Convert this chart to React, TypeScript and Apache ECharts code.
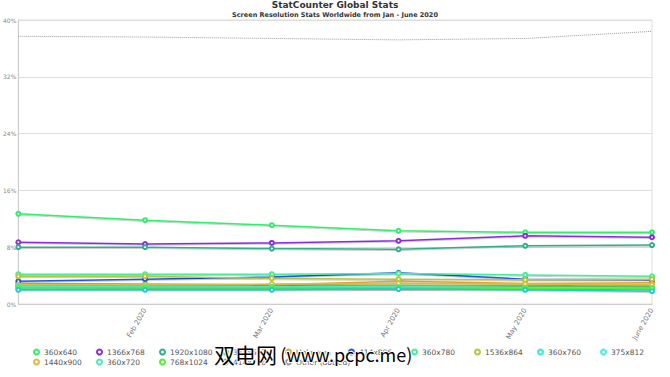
import React, { useEffect, useRef } from "react";
import * as echarts from "echarts";

const months = ["Jan 2020", "Feb 2020", "Mar 2020", "Apr 2020", "May 2020", "June 2020"];
const yTicks = { min: 0, max: 40, interval: 8 };

const s360x640 = [12.7, 11.8, 11.1, 10.3, 10.1, 10.1];
const s1366x768 = [8.7, 8.45, 8.6, 8.9, 9.6, 9.4];
const s1920x1080 = [8.0, 8.0, 7.8, 7.7, 8.2, 8.3];
const s375x667 = [2.9, 2.8, 2.7, 2.6, 2.5, 2.4];
const sUnknown = [2.6, 2.6, 2.7, 3.2, 2.9, 3.0];
const s414x896 = [3.2, 3.5, 3.8, 4.4, 3.5, 3.4];
const s360x780 = [4.2, 4.2, 4.2, 4.3, 4.1, 3.9];
const s1536x864 = [3.9, 3.9, 3.6, 3.5, 3.4, 3.5];
const s360x760 = [2.4, 2.4, 2.4, 2.6, 2.6, 2.6];
const s375x812 = [2.1, 2.1, 2.1, 2.2, 2.1, 2.0];
const s1440x900 = [2.7, 2.7, 2.8, 2.9, 2.8, 2.7];
const s360x720 = [2.5, 2.4, 2.4, 2.4, 2.3, 2.2];
const s768x1024 = [2.3, 2.3, 2.3, 2.3, 2.2, 2.2];
const s414x736 = [2.0, 2.0, 2.0, 2.1, 2.0, 1.8];
const sOther = [37.7, 37.6, 37.4, 37.2, 37.4, 38.4];

const seriesNames = [
  "360x640", "1366x768", "1920x1080", "375x667", "Unknown", "414x896", "360x780",
  "1536x864", "360x760", "375x812", "1440x900", "360x720", "768x1024", "414x736", "Other (dotted)",
];
const seriesData = [
  s360x640, s1366x768, s1920x1080, s375x667, sUnknown, s414x896, s360x780,
  s1536x864, s360x760, s375x812, s1440x900, s360x720, s768x1024, s414x736, sOther,
];
const colors = [
  "#2ef06a", "#8a2be2", "#2fb08a", "#66cc44", "#e8a030", "#2255ee", "#44ee99",
  "#b8c43a", "#33eecc", "#44eeee", "#ddbb44", "#44eebb", "#55ee33", "#22cccc", "#999999",
];

export default function App() {
  const ref = useRef<HTMLDivElement>(null);
  useEffect(() => {
    if (!ref.current) return;
    const chart = echarts.init(ref.current, null, { renderer: "svg" });
    const series = seriesNames.map((name, i) => {
      const isOther = name.startsWith("Other");
      return {
        name,
        type: "line",
        data: seriesData[i],
        color: colors[i],
        symbol: "emptyCircle",
        symbolSize: 4,
        showSymbol: !isOther,
        z: isOther ? 1 : 2 + i,
        lineStyle: {
          width: isOther ? 1 : 1.5,
          type: isOther ? "dotted" : "solid",
          color: colors[i],
          shadowColor: isOther ? "transparent" : "rgba(0,0,0,0.2)",
          shadowBlur: isOther ? 0 : 1,
          shadowOffsetY: isOther ? 0 : 1,
        },
        itemStyle: { color: colors[i], borderWidth: 0.8 },
        emphasis: { disabled: true },
      };
    });
    const legends = seriesNames.map((name, i) => {
      const row = i < 10 ? 0 : 1;
      const col = row === 0 ? i : i - 10;
      return {
        orient: "horizontal",
        left: 33 + 63 * col,
        top: row === 0 ? 348 : 358,
        padding: 0,
        itemWidth: 5,
        itemHeight: 5,
        icon: "emptyCircle",
        itemStyle: { borderWidth: 0.8 },
        textStyle: { fontSize: 7.5, color: "#555", fontFamily: "DejaVu Sans" },
        selectedMode: false,
        data: [name],
      };
    });
    chart.setOption({
      animation: false,
      title: [
        {
          text: "StatCounter Global Stats",
          left: "center",
          top: 0,
          padding: 0,
          textStyle: { fontSize: 9, fontWeight: "bold", color: "#333", fontFamily: "DejaVu Sans" },
        },
        {
          text: "Screen Resolution Stats Worldwide from Jan - June 2020",
          left: "center",
          top: 11,
          padding: 0,
          textStyle: { fontSize: 6.5, fontWeight: "bold", color: "#333", fontFamily: "DejaVu Sans" },
        },
      ],
      legend: legends,
      grid: {
        left: 14,
        right: 18,
        top: 20,
        bottom: 73,
        show: true,
        borderColor: "#dddddd",
        borderWidth: 1,
      },
      xAxis: {
        type: "category",
        data: months,
        boundaryGap: false,
        axisLine: { lineStyle: { color: "#cccccc" } },
        axisTick: { show: false },
        axisLabel: {
          rotate: 60,
          fontSize: 7,
          color: "#777",
          margin: 5,
          fontFamily: "DejaVu Sans",
          formatter: (v: string, idx: number) => (idx === 0 ? "" : v),
        },
        splitLine: { show: false },
      },
      yAxis: {
        type: "value",
        min: yTicks.min,
        max: yTicks.max,
        interval: yTicks.interval,
        axisLine: { show: true, lineStyle: { color: "#cccccc" } },
        axisTick: { show: false },
        axisLabel: {
          formatter: "{value}%",
          fontSize: 6,
          color: "#888",
          margin: 2,
          fontFamily: "DejaVu Sans",
        },
        splitLine: { lineStyle: { color: "#dddddd" } },
      },
      graphic: [
        {
          type: "text",
          left: 213,
          top: 342,
          z: 100,
          style: {
            text: "{a|双电网} {b|(www.pcpc.me)}",
            rich: {
              a: { fontSize: 21, fontFamily: "Noto Sans CJK SC", fill: "#000", stroke: "#fff", lineWidth: 2 },
              b: { fontSize: 18, fontFamily: "Noto Sans CJK SC", fill: "#000", stroke: "#fff", lineWidth: 2 },
            },
            fill: "#000",
          },
        },
      ],
      series,
    });
    return () => chart.dispose();
  }, []);
  return <div ref={ref} style={{ width: 670, height: 377, position: "absolute", left: 0, top: 0 }} />;
}
